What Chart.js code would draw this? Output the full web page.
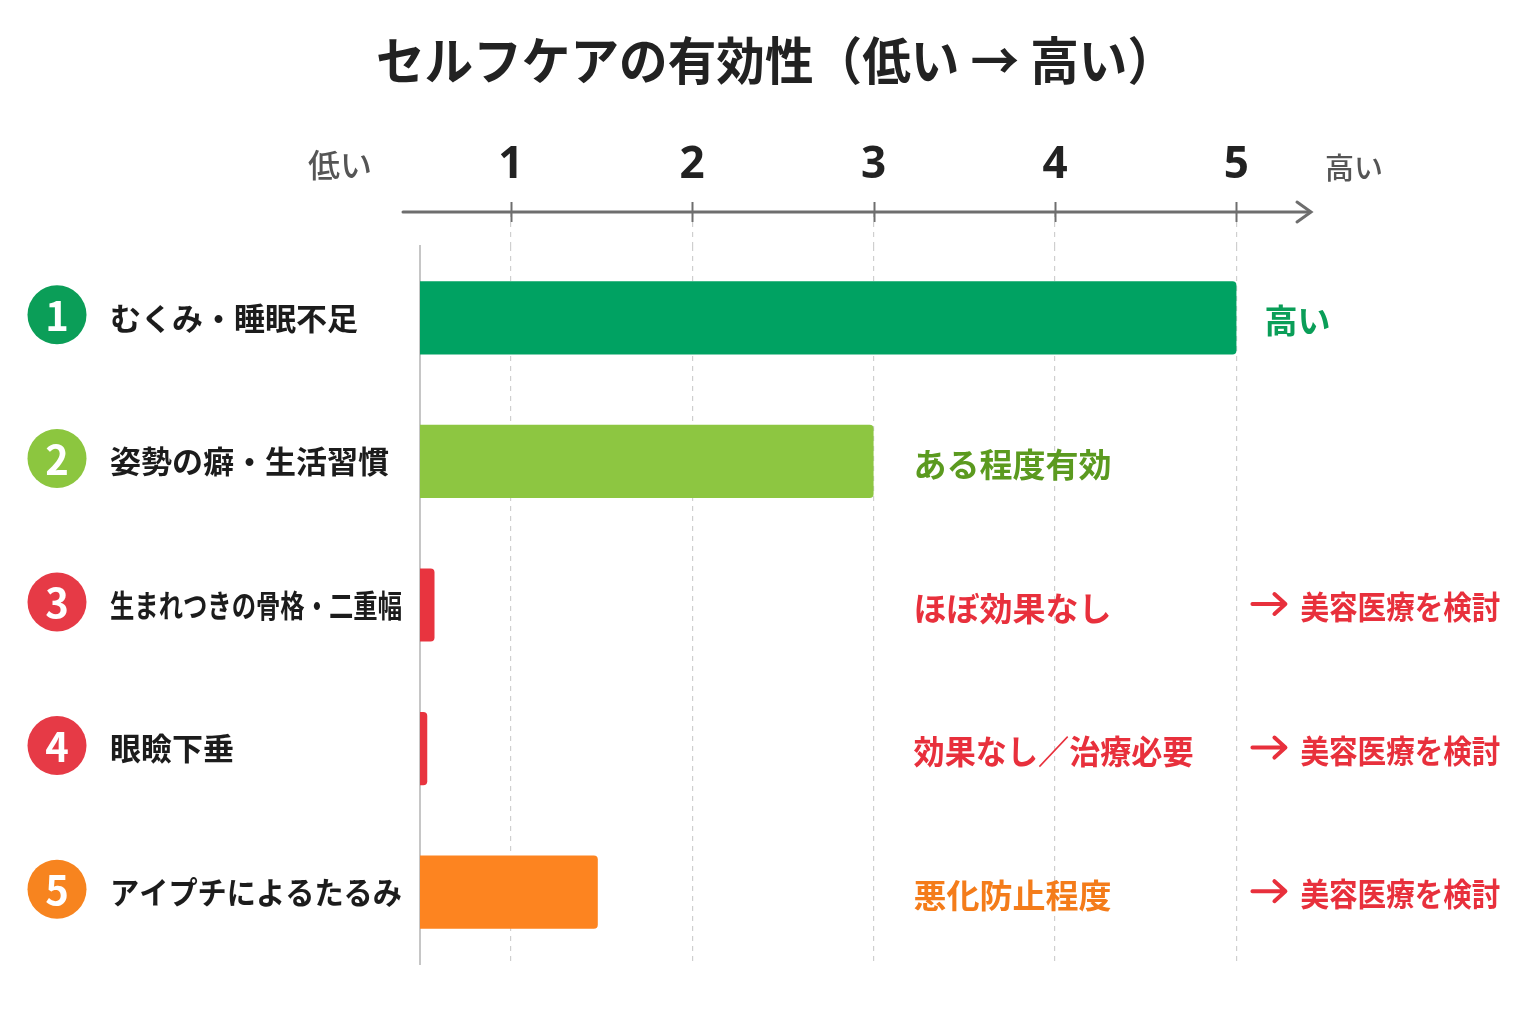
<!DOCTYPE html>
<html lang="ja">
<head>
<meta charset="utf-8">
<title>セルフケアの有効性</title>
<script src="https://cdn.jsdelivr.net/npm/chart.js@4.4.1/dist/chart.umd.min.js"></script>
<style>
  html, body { margin: 0; padding: 0; background: #fff; }
  #wrap { width: 1536px; height: 1024px; }
</style>
</head>
<body>
<div id="wrap"><canvas id="chart" width="1536" height="1024"></canvas></div>
<script>
// chart data
var chartTitle = 'セルフケアの有効性（低い → 高い）';
var categories = ['むくみ・睡眠不足', '姿勢の癖・生活習慣', '生まれつきの骨格・二重幅', '眼瞼下垂', 'アイプチによるたるみ'];
var effectiveness = [5, 3, 0.58, 0.54, 1.48];
var xTicks = [1, 2, 3, 4, 5];
var statusLabels = ['高い', 'ある程度有効', 'ほぼ効果なし', '効果なし／治療必要', '悪化防止程度'];
var adviceLabels = ['', '', '美容医療を検討', '美容医療を検討', '美容医療を検討'];

// colours
var barColors = ['#00a262', '#8dc641', '#e8343f', '#e8343f', '#fd8420'];
var badgeColors = ['#0b9e58', '#8cc63f', '#e63a46', '#e63a46', '#f7841f'];
var statusColors = ['#0a9e58', '#5b9a1f', '#e8303c', '#e8303c', '#f47c1a'];
var adviceColor = '#e8303c';

var FONT = "'Noto Sans CJK JP', 'Noto Sans', sans-serif";

// title, axis arrow, side labels, badges and notes
var decorPlugin = {
  id: 'decor',
  afterDraw: function(chart) {
    var ctx = chart.ctx;
    var area = chart.chartArea;
    var xs = chart.scales.x;
    var ys = chart.scales.y;
    var axisY = area.top - 34;

    ctx.save();

    // title (centred on the page, not on the plot)
    ctx.fillStyle = '#222';
    ctx.font = 'bold 51px ' + FONT;
    ctx.textAlign = 'center';
    ctx.textBaseline = 'middle';
    ctx.fillText(chartTitle, 776, 61, 800);

    // axis line + arrow head
    ctx.strokeStyle = '#6e6e6e';
    ctx.lineWidth = 3;
    ctx.lineCap = 'round';
    ctx.beginPath();
    ctx.moveTo(area.left - 17, axisY);
    ctx.lineTo(area.right + 1, axisY);
    ctx.stroke();
    ctx.beginPath();
    ctx.moveTo(area.right - 12, axisY - 10);
    ctx.lineTo(area.right + 2, axisY);
    ctx.lineTo(area.right - 12, axisY + 10);
    ctx.stroke();

    // tick marks on the axis
    ctx.lineWidth = 2;
    ctx.lineCap = 'butt';
    xTicks.forEach(function(v) {
      var px = Math.round(xs.getPixelForValue(v)) + 0.5;
      ctx.beginPath();
      ctx.moveTo(px, axisY - 10);
      ctx.lineTo(px, axisY + 10);
      ctx.stroke();
    });

    // low / high ends
    ctx.fillStyle = '#555';
    ctx.font = '500 32px ' + FONT;
    ctx.fillText('低い', 340, 165);
    ctx.font = '500 29px ' + FONT;
    ctx.fillText('高い', 1354, 168);

    var px3 = xs.getPixelForValue(3);
    var px5 = xs.getPixelForValue(5);

    categories.forEach(function(name, i) {
      var cy = ys.getPixelForValue(i);

      // numbered badge
      ctx.fillStyle = badgeColors[i];
      ctx.beginPath();
      ctx.arc(57, cy - 3, 29.5, 0, Math.PI * 2);
      ctx.fill();
      ctx.fillStyle = '#fff';
      ctx.textAlign = 'center';
      ctx.font = 'bold 40px ' + FONT;
      ctx.fillText(String(i + 1), 57, cy - 2);

      // category label
      ctx.fillStyle = '#1c1c1c';
      ctx.textAlign = 'left';
      ctx.font = 'bold 31px ' + FONT;
      ctx.fillText(name, 110, cy, 292);

      // verdict next to the bar
      var barEnd = xs.getPixelForValue(effectiveness[i]);
      var sx = Math.max(barEnd + 28, px3 + 40);
      ctx.fillStyle = statusColors[i];
      ctx.font = 'bold 33px ' + FONT;
      ctx.fillText(statusLabels[i], sx, cy + 3, 280);

      // advice column: thick arrow then text
      if (adviceLabels[i]) {
        var ax = px5 + 16;
        var ay = cy - 1;
        ctx.strokeStyle = adviceColor;
        ctx.lineWidth = 4;
        ctx.lineCap = 'round';
        ctx.lineJoin = 'round';
        ctx.beginPath();
        ctx.moveTo(ax, ay);
        ctx.lineTo(ax + 32, ay);
        ctx.moveTo(ax + 22, ay - 10);
        ctx.lineTo(ax + 33, ay);
        ctx.lineTo(ax + 22, ay + 10);
        ctx.stroke();
        ctx.fillStyle = adviceColor;
        ctx.font = 'bold 32px ' + FONT;
        ctx.fillText(adviceLabels[i], px5 + 64, cy + 2, 200);
      }
    });

    ctx.restore();
  }
};

new Chart(document.getElementById('chart'), {
  type: 'bar',
  data: {
    labels: categories,
    datasets: [{
      data: effectiveness,
      backgroundColor: barColors,
      borderRadius: 4,
      categoryPercentage: 1,
      barPercentage: 0.51
    }]
  },
  options: {
    indexAxis: 'y',
    responsive: false,
    animation: false,
    devicePixelRatio: 1,
    layout: { padding: { left: 420, right: 227, top: 0, bottom: 60 } },
    plugins: {
      legend: { display: false },
      tooltip: { enabled: false },
      title: { display: false }
    },
    scales: {
      x: {
        position: 'top',
        min: 0.5,
        max: 5.4,
        afterBuildTicks: function(axis) {
          axis.ticks = xTicks.map(function(v) { return { value: v }; });
        },
        afterFit: function(axis) { axis.height = 246; },
        ticks: {
          color: '#222',
          padding: 20,
          font: { family: "'Noto Sans', sans-serif", size: 44, weight: 'bold' }
        },
        grid: {
          color: '#cfcfcf',
          lineWidth: 1.2,
          drawTicks: true,
          tickLength: 34,
          tickBorderDash: [5, 5]
        },
        border: { display: false, dash: [5, 5] }
      },
      y: {
        ticks: { display: false },
        grid: { display: false, drawTicks: false },
        border: { display: true, color: '#c6c6c6', width: 2 },
        afterFit: function(axis) { axis.width = 0; }
      }
    }
  },
  plugins: [decorPlugin]
});
</script>
</body>
</html>
